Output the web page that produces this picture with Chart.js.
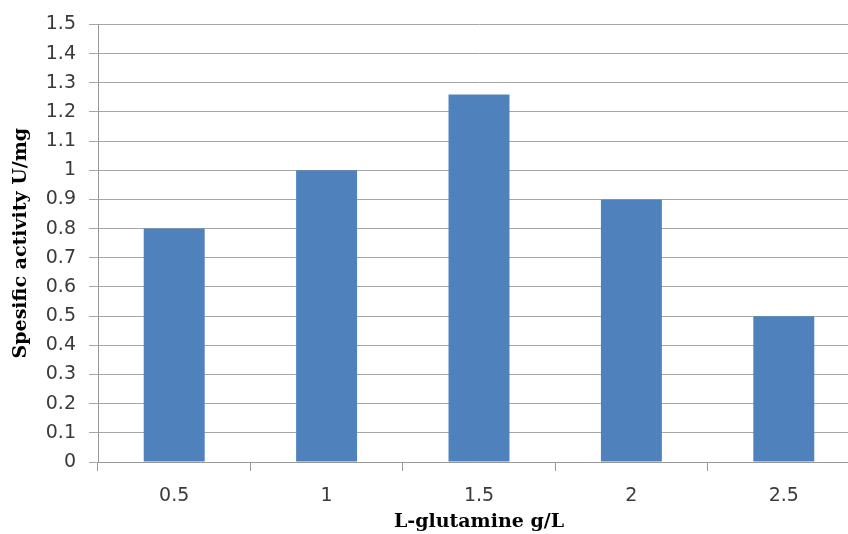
<!DOCTYPE html>
<html>
<head>
<meta charset="utf-8">
<script src="https://cdn.jsdelivr.net/npm/chart.js@4/dist/chart.umd.min.js"></script>
<style>
  html, body { margin: 0; padding: 0; background: #fff; overflow: hidden; }
</style>
</head>
<body>
<canvas id="chart" width="860" height="534"></canvas>
<script>
const categories = ["0.5", "1", "1.5", "2", "2.5"];
const activity = [0.8, 1.0, 1.26, 0.9, 0.5];
const yTicks = ["0", "0.1", "0.2", "0.3", "0.4", "0.5", "0.6", "0.7", "0.8", "0.9", "1", "1.1", "1.2", "1.3", "1.4", "1.5"];

const tickFont = { family: "DejaVu Sans", size: 19 };
const titleFont = { family: "DejaVu Serif", size: 19, weight: "bold" };

const ctx = document.getElementById("chart").getContext("2d");
new Chart(ctx, {
  type: "bar",
  data: {
    labels: categories,
    datasets: [{
      data: activity,
      backgroundColor: "#4F81BD",
      borderWidth: 0,
      categoryPercentage: 1,
      barPercentage: 0.4
    }]
  },
  options: {
    responsive: false,
    animation: false,
    devicePixelRatio: 1,
    layout: { padding: { top: 19, left: 10, right: 0, bottom: 0 } },
    plugins: { legend: { display: false }, tooltip: { enabled: false } },
    scales: {
      x: {
        grid: { display: true, offset: true, drawOnChartArea: false, tickLength: 9, color: "#999" },
        border: { color: "#999" },
        ticks: { font: tickFont, color: "#3a3a3a", padding: 14 },
        title: { display: true, text: "L-glutamine g/L", font: titleFont, color: "#000", padding: { top: 0, bottom: 1 } },
        afterFit: s => { s.height = 72; }
      },
      y: {
        min: 0,
        max: 1.5,
        ticks: {
          stepSize: 0.1,
          autoSkip: false,
          font: tickFont,
          color: "#3a3a3a",
          padding: 13,
          callback: (v, i) => yTicks[i]
        },
        grid: { color: "#a6a6a6", tickLength: 9, lineWidth: 1 },
        border: { color: "#999" },
        title: { display: true, text: "Spesific activity U/mg", font: titleFont, color: "#000", padding: { top: 0, bottom: 4 } },
        afterFit: s => { s.width = 88; }
      }
    }
  }
});
</script>
</body>
</html>
